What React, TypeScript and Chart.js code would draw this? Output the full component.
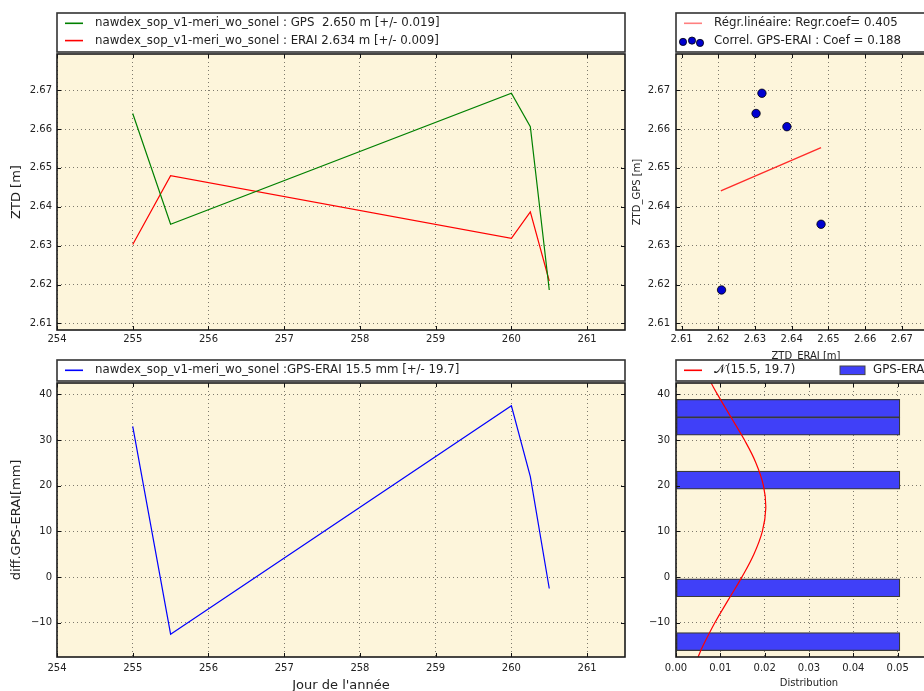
import React, { useEffect, useRef } from 'react';
import { Chart, registerables } from 'chart.js';

Chart.register(...registerables);

// ---------- data ----------
const days = [255, 255.5, 260, 260.25, 260.5];
const ztdGps = [2.664, 2.6355, 2.6692, 2.6606, 2.6186];
const ztdErai = [2.6303, 2.648, 2.6319, 2.6387, 2.6209];
const diffMm = [33.0, -12.5, 37.5, 22.0, -2.5];
const regrErai = [2.6207, 2.648];
const regrGps = [2.6441, 2.6552];
const histCenters = [-14.135, -2.345, 21.235, 33.025, 36.955];
const histDensity = [0.0505, 0.0505, 0.0505, 0.0505, 0.0505];
const normY = [-17.5, -15, -10, -5, 0, 5, 10, 15, 20, 25, 30, 35, 40, 42.5];
const normPdf = [0.00498, 0.00611, 0.00876, 0.01179, 0.01486, 0.01757, 0.01948, 0.02025, 0.01973, 0.01803, 0.01545, 0.01241, 0.00935, 0.00792];

const dayTicks = [254, 255, 256, 257, 258, 259, 260, 261];
const ztdTicks = [2.61, 2.62, 2.63, 2.64, 2.65, 2.66, 2.67];
const diffTicks = [-10, 0, 10, 20, 30, 40];
const distTicks = [0, 0.01, 0.02, 0.03, 0.04, 0.05, 0.06];

const legendA = [
  'nawdex_sop_v1-meri_wo_sonel : GPS  2.650 m [+/- 0.019]',
  'nawdex_sop_v1-meri_wo_sonel : ERAI 2.634 m [+/- 0.009]',
];
const legendB = ['nawdex_sop_v1-meri_wo_sonel :GPS-ERAI 15.5 mm [+/- 19.7]'];
const legendC = ['Régr.linéaire: Regr.coef= 0.405', 'Correl. GPS-ERAI : Coef = 0.188'];
const legendD = ['\u{1D4A9}(15.5, 19.7)', 'GPS-ERAI'];

// ---------- styles ----------
const FONT = 'DejaVu Sans';
const BG = '#fdf5db';
const TXT = '#222';
const GREEN = '#008000';
const RED = '#ff0000';
const BLUE = '#0000ff';
const BAR = '#4040f8';

const fmtMinus = (v: number, d: number) => (v < 0 ? '\u2212' + Math.abs(v).toFixed(d) : v.toFixed(d));

const mplPlugin = {
  id: 'mpl',
  beforeDraw(chart: any) {
    const { ctx, chartArea: ca } = chart;
    ctx.save();
    ctx.fillStyle = BG;
    ctx.fillRect(ca.left, ca.top, ca.right - ca.left, ca.bottom - ca.top);
    ctx.restore();
  },
  afterDraw(chart: any, _args: any, opts: any) {
    const { ctx, chartArea: ca, scales } = chart;
    ctx.save();
    // inward tick marks on all four sides
    ctx.strokeStyle = '#111';
    ctx.lineWidth = 1;
    const xs = scales.x;
    const ys = scales.y;
    ctx.beginPath();
    xs.ticks.forEach((t: any) => {
      const px = Math.round(xs.getPixelForValue(t.value)) + 0.5;
      ctx.moveTo(px, ca.top);
      ctx.lineTo(px, ca.top + 4);
      ctx.moveTo(px, ca.bottom);
      ctx.lineTo(px, ca.bottom - 4);
    });
    ys.ticks.forEach((t: any) => {
      const py = Math.round(ys.getPixelForValue(t.value)) + 0.5;
      ctx.moveTo(ca.left, py);
      ctx.lineTo(ca.left + 4, py);
      ctx.moveTo(ca.right, py);
      ctx.lineTo(ca.right - 4, py);
    });
    ctx.stroke();
    // frame
    ctx.lineWidth = 1.6;
    ctx.strokeStyle = '#1a1a1a';
    ctx.strokeRect(ca.left, ca.top, ca.right - ca.left, ca.bottom - ca.top);

    // legend box
    const items = (opts && opts.items) || [];
    if (items.length) {
      const rows = Math.max(...items.map((it: any) => it.row || 0)) + 1;
      const h = rows === 1 ? 21 : 39;
      const top = ca.top - 2 - h;
      const left = ca.left;
      ctx.fillStyle = '#fff';
      ctx.fillRect(left, top, ca.right - left, h);
      ctx.lineWidth = 1.6;
      ctx.strokeStyle = '#333';
      ctx.strokeRect(left, top, ca.right - left, h);
      ctx.font = `11.8px "${FONT}"`;
      ctx.textBaseline = 'middle';
      ctx.textAlign = 'left';
      items.forEach((it: any) => {
        const cy = top + 10.3 + (it.row || 0) * 17.3;
        const x0 = left + (it.col || 0);
        if (it.kind === 'line') {
          ctx.strokeStyle = it.color;
          ctx.lineWidth = 1.6;
          ctx.beginPath();
          ctx.moveTo(x0 + 8, cy);
          ctx.lineTo(x0 + 26, cy);
          ctx.stroke();
        } else if (it.kind === 'dots') {
          const offs = [1.3, 0, 2.3];
          [7, 16, 24].forEach((dx, k) => {
            ctx.beginPath();
            ctx.arc(x0 + dx, cy + offs[k], 3.6, 0, Math.PI * 2);
            ctx.fillStyle = it.color;
            ctx.fill();
            ctx.lineWidth = 0.8;
            ctx.strokeStyle = '#000';
            ctx.stroke();
          });
        } else if (it.kind === 'patch') {
          ctx.fillStyle = it.color;
          ctx.fillRect(x0, cy - 4.3, 25, 8.6);
          ctx.lineWidth = 1;
          ctx.strokeStyle = '#444';
          ctx.strokeRect(x0, cy - 4.3, 25, 8.6);
        }
        ctx.fillStyle = TXT;
        ctx.fillText(it.text, x0 + (it.kind === 'patch' ? 33 : 38), cy);
      });
    }
    ctx.restore();
  },
};

const gridOpts = { color: 'rgba(0,0,0,0.5)', lineWidth: 1, drawTicks: false };
const borderOpts = { display: false, dash: [1, 3] };
const tickFont = { family: FONT, size: 10 };

function linScale(min: number, max: number, ticks: number[], fmt: (v: number) => string, fit: (s: any) => void, padding: number, title?: any) {
  return {
    type: 'linear',
    min,
    max,
    offset: false,
    afterBuildTicks: (s: any) => {
      s.ticks = ticks.map((v) => ({ value: v }));
    },
    afterFit: fit,
    grid: { ...gridOpts, offset: false },
    border: borderOpts,
    ticks: { padding, font: tickFont, color: TXT, maxRotation: 0, autoSkip: false, callback: (v: any) => fmt(Number(v)) },
    title: title || { display: false },
  };
}

const baseOpts = (padding: any) => ({
  animation: false,
  responsive: false,
  maintainAspectRatio: false,
  devicePixelRatio: 1,
  layout: { padding },
  events: [],
});

function configA() {
  return {
    type: 'line',
    data: {
      datasets: [
        { data: days.map((d, i) => ({ x: d, y: ztdGps[i] })), borderColor: GREEN, borderWidth: 1.2, pointRadius: 0, fill: false, tension: 0 },
        { data: days.map((d, i) => ({ x: d, y: ztdErai[i] })), borderColor: RED, borderWidth: 1.2, pointRadius: 0, fill: false, tension: 0 },
      ],
    },
    options: {
      ...baseOpts({ top: 54, left: 0, right: 15, bottom: 0 }),
      plugins: {
        legend: { display: false },
        tooltip: { enabled: false },
        mpl: { items: [
          { kind: 'line', color: GREEN, text: legendA[0], row: 0 },
          { kind: 'line', color: RED, text: legendA[1], row: 1 },
        ] },
      },
      scales: {
        x: linScale(254, 261.5, dayTicks, (v) => String(v), (s) => { s.height = 15; }, 3),
        y: linScale(2.6083, 2.6793, ztdTicks, (v) => v.toFixed(2), (s) => { s.width = 57; }, 5,
          { display: true, text: 'ZTD [m]', color: TXT, font: { family: FONT, size: 13, lineHeight: 1 }, padding: { top: 10.5, bottom: 0 } }),
      },
    },
  };
}

function configB() {
  return {
    type: 'line',
    data: {
      datasets: [
        { data: days.map((d, i) => ({ x: d, y: diffMm[i] })), borderColor: BLUE, borderWidth: 1.2, pointRadius: 0, fill: false, tension: 0 },
      ],
    },
    options: {
      ...baseOpts({ top: 38, left: 0, right: 15, bottom: 0 }),
      plugins: {
        legend: { display: false },
        tooltip: { enabled: false },
        mpl: { items: [{ kind: 'line', color: BLUE, text: legendB[0], row: 0 }] },
      },
      scales: {
        x: linScale(254, 261.5, dayTicks, (v) => String(v), (s) => { s.height = 48; }, 5,
          { display: true, text: "Jour de l'année", color: TXT, font: { family: FONT, size: 13, lineHeight: 1 }, padding: { top: 0, bottom: 13 } }),
        y: linScale(-17.5, 42.5, diffTicks, (v) => fmtMinus(v, 0), (s) => { s.width = 57; }, 5,
          { display: true, text: 'diff.GPS-ERAI[mm]', color: TXT, font: { family: FONT, size: 13, lineHeight: 1 }, padding: { top: 10.5, bottom: 0 } }),
      },
    },
  };
}

function configC() {
  return {
    type: 'scatter',
    data: {
      datasets: [
        { type: 'line', data: regrErai.map((e, i) => ({ x: e, y: regrGps[i] })), borderColor: 'rgba(255,20,20,0.9)', borderWidth: 1.3, pointRadius: 0, fill: false, tension: 0, order: 1 },
        { type: 'scatter', data: ztdErai.map((e, i) => ({ x: e, y: ztdGps[i] })), backgroundColor: '#0000d0', borderColor: '#000', borderWidth: 0.8, pointRadius: 4.2, order: 0 },
      ],
    },
    options: {
      ...baseOpts({ top: 54, left: 0, right: 24, bottom: 0 }),
      plugins: {
        legend: { display: false },
        tooltip: { enabled: false },
        mpl: { items: [
          { kind: 'line', color: 'rgba(255,0,0,0.5)', text: legendC[0], row: 0 },
          { kind: 'dots', color: '#0000d0', text: legendC[1], row: 1 },
        ] },
      },
      scales: {
        x: linScale(2.6085, 2.6793, ztdTicks, (v) => v.toFixed(2), (s) => { s.height = 35; }, 3,
          { display: true, text: 'ZTD_ERAI [m]', color: TXT, font: { family: FONT, size: 10, lineHeight: 1.2 }, padding: { top: 0, bottom: 3 } }),
        y: linScale(2.6083, 2.6793, ztdTicks, (v) => v.toFixed(2), (s) => { s.width = 56; }, 6,
          { display: true, text: 'ZTD_GPS [m]', color: TXT, font: { family: FONT, size: 10, lineHeight: 1.2 }, padding: { top: 11, bottom: 0 } }),
      },
    },
  };
}

function configD() {
  return {
    type: 'bar',
    data: {
      datasets: [
        { type: 'line', data: normY.map((y, i) => ({ x: normPdf[i], y })), borderColor: RED, borderWidth: 1.2, pointRadius: 0, fill: false, tension: 0.4, order: 0 },
        { type: 'bar', data: histCenters.map((c, i) => ({ x: histDensity[i], y: c })), backgroundColor: BAR, borderColor: '#3a3a3a', borderWidth: 1.2, borderSkipped: false, barPercentage: 1, categoryPercentage: 1, order: 1 },
      ],
    },
    options: {
      ...baseOpts({ top: 38, left: 0, right: 18, bottom: 0 }),
      indexAxis: 'y',
      plugins: {
        legend: { display: false },
        tooltip: { enabled: false },
        mpl: { items: [
          { kind: 'line', color: RED, text: legendD[0], row: 0 },
          { kind: 'patch', color: BAR, text: legendD[1], row: 0, col: 164 },
        ] },
      },
      scales: {
        x: linScale(0, 0.06, distTicks, (v) => v.toFixed(2), (s) => { s.height = 48; }, 5,
          { display: true, text: 'Distribution', color: TXT, font: { family: FONT, size: 10, lineHeight: 1.2 }, padding: { top: 0, bottom: 16 } }),
        y: linScale(-17.5, 42.5, diffTicks, (v) => fmtMinus(v, 0), (s) => { s.width = 56; }, 6),
      },
    },
  };
}

function Panel(props: { left: number; top: number; width: number; height: number; make: () => any }) {
  const ref = useRef<HTMLCanvasElement | null>(null);
  useEffect(() => {
    if (!ref.current) return;
    const cfg = props.make();
    cfg.plugins = [mplPlugin];
    const chart = new Chart(ref.current, cfg);
    return () => chart.destroy();
  }, []);
  return (
    <canvas
      ref={ref}
      width={props.width}
      height={props.height}
      style={{ position: 'absolute', left: props.left, top: props.top, width: props.width, height: props.height }}
    />
  );
}

export default function App() {
  useEffect(() => {
    Chart.defaults.font.family = FONT;
  }, []);
  return (
    <div style={{ position: 'fixed', left: 0, top: 0, width: 924, height: 691, overflow: 'hidden', background: '#fff', fontFamily: FONT }}>
      <Panel left={0} top={0} width={640} height={345} make={configA} />
      <Panel left={0} top={345} width={640} height={360} make={configB} />
      <Panel left={620} top={0} width={340} height={365} make={configC} />
      <Panel left={620} top={345} width={340} height={360} make={configD} />
    </div>
  );
}
